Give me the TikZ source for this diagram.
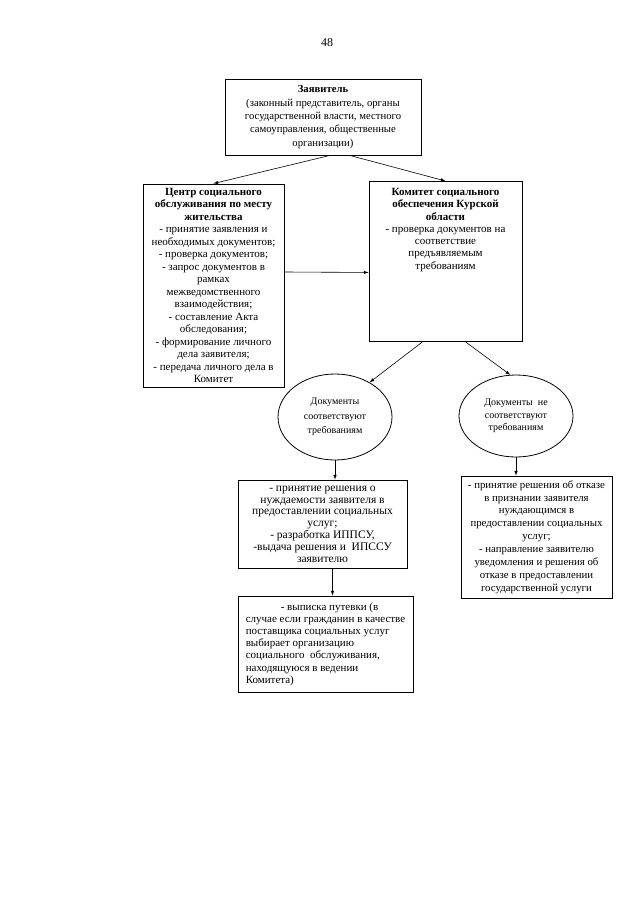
\documentclass[tikz,border=0pt]{standalone}
\usepackage{fontspec}
\setmainfont{Liberation Serif}
\usepackage{tikz}
\usetikzlibrary{shapes.geometric}

\begin{document}
\begin{tikzpicture}[x=1pt,y=-1pt,
  box/.style={draw,line width=0.9pt,rectangle,inner sep=0pt,align=center,
    font=\fontsize{11}{12.6}\selectfont},
  oval/.style={draw,line width=0.8pt,ellipse,inner sep=0pt,align=center,
    font=\fontsize{10}{14.5}\selectfont},
  link/.style={line width=0.6pt,-latex}]
\useasboundingbox (0,0) rectangle (640,905);
\node[font=\fontsize{12}{14}\selectfont] (page) at (327,43) {48};
% top
\node[box,minimum width=196,minimum height=76,font=\fontsize{10.7}{13.3}\selectfont] (zayav) at (323,117)
  {\textbf{Заявитель}\\(законный представитель, органы\\государственной власти, местного\\самоуправления, общественные\\организации)};
\node[box,minimum width=141,minimum height=203,font=\fontsize{11}{12.5}\selectfont] (centr) at (213.5,285.5)
  {\textbf{Центр социального}\\\textbf{обслуживания по месту}\\\textbf{жительства}\\- принятие заявления и\\необходимых документов;\\- проверка документов;\\- запрос документов в\\рамках\\межведомственного\\взаимодействия;\\- составление Акта\\обследования;\\- формирование личного\\дела заявителя;\\- передача личного дела в\\Комитет};
\node[box,minimum width=153,minimum height=160,anchor=north] (komitet) at (445.5,181) {};
\node[align=center,anchor=north,inner sep=0pt,font=\fontsize{11}{12.3}\selectfont] (komitettxt) at ([yshift=-7pt]komitet.north)
  {\textbf{Комитет социального}\\\textbf{обеспечения Курской}\\\textbf{области}\\- проверка документов на\\соответствие\\предъявляемым\\требованиям};
% decision
\node[oval,minimum width=114,minimum height=86] (docok) at (335,417)
  {Документы\\соответствуют\\требованиям};
\node[oval,minimum width=114,minimum height=82,font=\fontsize{10}{12.5}\selectfont] (docno) at (516,416)
  {Документы\ \ не\\соответствуют\\требованиям};
% results
\node[box,minimum width=169,minimum height=88,font=\fontsize{11.5}{11.8}\selectfont] (reshenie) at (322.5,524)
  {- принятие решения о\\нуждаемости заявителя в\\предоставлении социальных\\услуг;\\- разработка ИППСУ,\\-выдача решения и\ \ ИПССУ\\заявителю};
\node[box,minimum width=151,minimum height=122,font=\fontsize{10.8}{12.9}\selectfont] (otkaz) at (536.5,537)
  {- принятие решения об отказе\\в признании заявителя\\нуждающимся в\\предоставлении социальных\\услуг;\\- направление заявителю\\уведомления и решения об\\отказе в предоставлении\\государственной услуги};
\node[box,minimum width=175,minimum height=96,align=left,font=\fontsize{11}{12.2}\selectfont] (putevka) at (325.5,644)
  {\hspace*{35pt}- выписка путевки (в\\случае если гражданин в качестве\\поставщика социальных услуг\\выбирает организацию\\социального\ \ обслуживания,\\находящуюся в ведении\\Комитета)};
% arrows
\draw[link] (zayav.280) -- (centr.north);
\draw[link] (zayav.305) -- (komitet.north);
\draw[link] ([yshift=13.5pt]centr.east) -- ([yshift=-11pt]komitet.west);
\draw[link] (komitet.254) -- (docok.45);
\draw[link] (komitet.284) -- (docno.98);
\draw[link] (docok.south) -- (docok.south |- reshenie.north);
\draw[link] (docno.south) -- (docno.south |- otkaz.north);
\draw[link] ([xshift=10pt]reshenie.south) -- ([xshift=10pt]reshenie.south |- putevka.north);
\end{tikzpicture}
\end{document}
